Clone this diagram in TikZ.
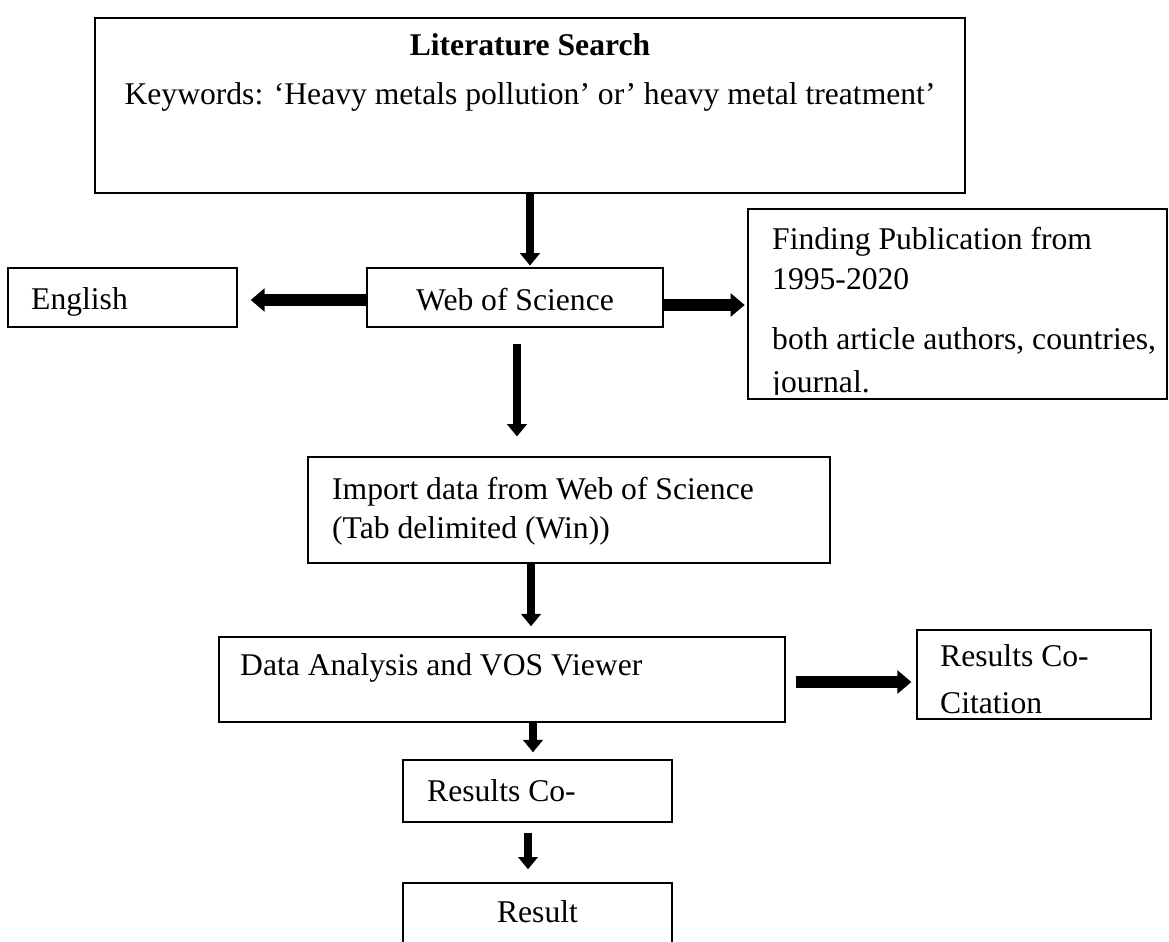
\documentclass[tikz,border=0pt]{standalone}
\usepackage{fontspec}
\setmainfont{Liberation Serif}
\usetikzlibrary{arrows.meta}
\tikzstyle{box}=[rectangle,draw,line width=0.8pt,inner sep=0pt]
\tikzstyle{vflow}=[line width=4.5pt,-{Triangle[length=7pt,width=11pt]}]
\tikzstyle{hflow}=[line width=6.5pt,-{Triangle[length=8pt,width=13pt]}]

\begin{document}
\begin{tikzpicture}[x=0.02cm,y=-0.02cm,font=\fontsize{18}{21.6}\selectfont]
  \useasboundingbox (0,0) rectangle (1169,942);

  \node[box,minimum width=17.4cm,minimum height=3.5cm] (lit) at (530,105.5) {};
  \node[font=\fontsize{18}{21.6}\selectfont\bfseries] (littitle) at (530,45) {Literature Search};
  \node (litkeys) at (530,97) {Keywords: ‘Heavy metals pollution’ or’ heavy metal treatment’};

  \node[box,minimum width=5.92cm,minimum height=1.18cm] (wos) at (515,297.5) {};
  \node (wostext) at (515,300) {Web of Science};
  \node[box,minimum width=4.58cm,minimum height=1.18cm] (eng) at (122.5,297.5) {};
  \node[anchor=base west] (engtext) at (25,310) {English};

  \node[box,minimum width=8.38cm,minimum height=3.8cm] (find) at (957.5,304) {};
  \node[anchor=base west] (findA) at (766,250) {Finding Publication from};
  \node[anchor=base west] (findB) at (766,290) {1995-2020};
  \node[anchor=base west] (findC) at (766,350) {both article authors, countries,};
  \begin{scope}
    \clip (find.north west) rectangle ([yshift=0.1cm]find.south east);
    \node[anchor=base west] (findD) at (766,392) {journal.};
  \end{scope}

  \node[box,minimum width=10.44cm,minimum height=2.12cm] (imp) at (569,510) {};
  \node[anchor=base west] (impA) at (326,499) {Import data from Web of Science};
  \node[anchor=base west] (impB) at (326,538) {(Tab delimited (Win))};

  \node[box,minimum width=11.32cm,minimum height=1.7cm] (data) at (502,679.5) {};
  \node[anchor=west] (datatext) at (234,668) {Data Analysis and VOS Viewer};
  \node[box,minimum width=4.68cm,minimum height=1.78cm] (cocit) at (1034,674.5) {};
  \node[anchor=west] (cocitA) at (934,656) {Results Co-};
  \node[anchor=west] (cocitB) at (934,703) {Citation};

  \node[box,minimum width=5.38cm,minimum height=1.24cm] (resco) at (537.5,791) {};
  \node[anchor=base west] (rescotext) at (421,801) {Results Co-};
  \node[box,minimum width=5.38cm,minimum height=1.32cm] (res) at (537.5,916) {};
  \node (restext) at (537.5,912) {Result};

  % arrows
  \draw[vflow,shorten >=1pt] (lit.south) -- (lit.south |- wos.north);
  \draw[hflow,shorten >=7.4pt] ([yshift=-0.05cm]wos.west) -- ([yshift=-0.05cm]eng.east |- wos.west);
  \draw[hflow,shorten >=1.5pt] ([yshift=-0.15cm]wos.east) -- ([yshift=-0.15cm]find.west |- wos.east);
  \draw[vflow,shorten <=9pt,shorten >=11.3pt] ([xshift=0.04cm]wos.south) -- ([xshift=0.04cm]wos.south |- imp.north);
  \draw[vflow,shorten >=5.7pt] ([xshift=-0.76cm]imp.south) -- ([xshift=-0.76cm]imp.south |- data.north);
  \draw[hflow,shorten <=5.7pt,shorten >=2.8pt] ([yshift=-0.05cm]data.east) -- ([yshift=-0.05cm]data.east -| cocit.west);
  \draw[vflow,shorten >=4pt] ([xshift=0.62cm]data.south) -- ([xshift=0.62cm]data.south |- resco.north);
  \draw[vflow,shorten <=5.7pt,shorten >=7.4pt] ([xshift=-0.19cm]resco.south) -- ([xshift=-0.19cm]resco.south |- res.north);
\end{tikzpicture}
\end{document}
